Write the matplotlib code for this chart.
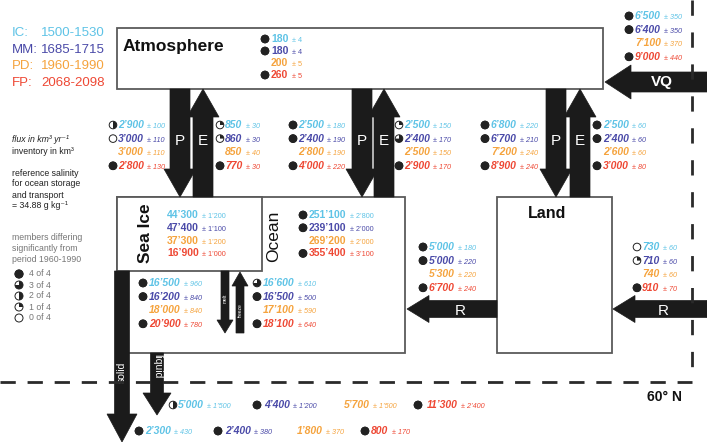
import matplotlib
matplotlib.use("Agg")
import matplotlib.pyplot as plt
from matplotlib.patches import Rectangle, FancyArrow, Wedge, Circle

plt.rcParams['font.family'] = ['Liberation Sans', 'DejaVu Sans']
plt.rcParams['lines.scale_dashes'] = False

# period colours: IC, MM, PD, FP
COLS = ["#5ec3e6", "#4a4aa8", "#f5a33d", "#ee4834"]
periods = ["IC:", "MM:", "PD:", "FP:"]
years = ["1500-1530", "1685-1715", "1960-1990", "2068-2098"]

# values per period (IC, MM, PD, FP); sig = members differing (None = reference)
atm_val = ["180", "180", "200", "260"]
atm_err = ["4", "4", "5", "5"]
atm_sig = [4, 4, None, 4]

vq_val = ["6’500", "6’400", "7’100", "9’000"]
vq_err = ["350", "350", "370", "440"]
vq_sig = [4, 4, None, 4]

siP_val = ["2’900", "3’000", "3’000", "2’800"]
siP_err = ["100", "110", "110", "130"]
siP_sig = [2, 0, None, 4]

siE_val = ["850", "860", "850", "770"]
siE_err = ["30", "30", "40", "30"]
siE_sig = [1, 1, None, 4]

ocP_val = ["2’500", "2’400", "2’800", "4’000"]
ocP_err = ["180", "190", "190", "220"]
ocP_sig = [4, 4, None, 4]

ocE_val = ["2’500", "2’400", "2’500", "2’900"]
ocE_err = ["150", "170", "150", "170"]
ocE_sig = [1, 3, None, 4]

laP_val = ["6’800", "6’700", "7’200", "8’900"]
laP_err = ["220", "210", "240", "240"]
laP_sig = [4, 4, None, 4]

laE_val = ["2’500", "2’400", "2’600", "3’000"]
laE_err = ["60", "60", "60", "80"]
laE_sig = [4, 4, None, 4]

siInv_val = ["44’300", "47’400", "37’300", "16’900"]
siInv_err = ["1’200", "1’100", "1’200", "1’000"]
siInv_sig = [None, None, None, None]

ocInv_val = ["251’100", "239’100", "269’200", "355’400"]
ocInv_err = ["2’800", "2’000", "2’000", "3’100"]
ocInv_sig = [4, 4, None, 4]

melt_val = ["16’500", "16’200", "18’000", "20’900"]
melt_err = ["960", "840", "840", "780"]
melt_sig = [4, 4, None, 4]

frz_val = ["16’600", "16’500", "17’100", "18’100"]
frz_err = ["610", "500", "590", "640"]
frz_sig = [3, 4, None, 4]

rOc_val = ["5’000", "5’000", "5’300", "6’700"]
rOc_err = ["180", "220", "220", "240"]
rOc_sig = [4, 4, None, 4]

rLa_val = ["730", "710", "740", "910"]
rLa_err = ["60", "60", "60", "70"]
rLa_sig = [0, 1, None, 4]

liq_val = ["5’000", "4’400", "5’700", "11’300"]
liq_err = ["1’500", "1’200", "1’500", "2’400"]
liq_sig = [2, 4, None, 4]

sol_val = ["2’300", "2’400", "1’800", "800"]
sol_err = ["430", "380", "370", "170"]
sol_sig = [4, 4, None, 4]

legend_n = [4, 3, 2, 1, 0]

fig = plt.figure(figsize=(7.07, 4.42), dpi=100)
ax = fig.add_axes([0, 0, 1, 1])
ax.set_xlim(0, 707)
ax.set_ylim(442, 0)
ax.axis("off")

ARR = "#1b1b1b"
EDGE = "#5a5a5a"


def marker(x, y, n, r=3.8):
    if n is None:
        return
    ax.add_patch(Circle((x, y), r, fc="white", ec="#222", lw=0.7, zorder=5))
    if n >= 4:
        ax.add_patch(Circle((x, y), r, fc="#222", ec="#222", lw=0.7, zorder=6))
    elif n > 0:
        ax.add_patch(Wedge((x, y), r, 270, 270 + 90 * n, fc="#222", ec="none", zorder=6))


def entry(mx, tx, y, val, err, sig, col, italic=True, size=7.5):
    if mx is not None:
        marker(mx, y, sig)
    st = "italic" if italic else "normal"
    t = ax.text(tx, y, val, color=col, fontsize=size, fontweight="bold",
                fontstyle=st, va="center", ha="left", zorder=7)
    ax.annotate("± " + err, xy=(1, 0), xycoords=t, xytext=(2.5, 0),
                textcoords="offset points", va="bottom", ha="left",
                color=col, fontsize=size - 2.3, fontstyle=st, zorder=7)


def block(mx, tx, y0, vals, errs, sigs, dy=13.6, italic=True):
    for i in range(4):
        entry(mx, tx, y0 + i * dy, vals[i], errs[i], sigs[i], COLS[i], italic)


def arrow(x0, y0, x1, y1, w, hw, hl):
    ax.add_patch(FancyArrow(x0, y0, x1 - x0, y1 - y0, width=w, head_width=hw,
                            head_length=hl, length_includes_head=True,
                            fc=ARR, ec=ARR, lw=0.5, zorder=3))


# boxes
ax.add_patch(Rectangle((117, 28), 486, 61, fc="white", ec=EDGE, lw=1.3, zorder=2))
ax.add_patch(Rectangle((117, 197), 288, 156, fc="white", ec=EDGE, lw=1.3, zorder=1))
ax.add_patch(Rectangle((117, 197), 145, 74, fc="white", ec=EDGE, lw=1.3, zorder=2))
ax.add_patch(Rectangle((497, 197), 115, 156, fc="white", ec=EDGE, lw=1.3, zorder=2))

ax.text(123, 46, "Atmosphere", fontsize=12.5, fontweight="bold", va="center", color="#111")
ax.text(547, 213, "Land", fontsize=11.5, fontweight="bold", va="center", ha="center", color="#111")
ax.text(146, 233, "Sea Ice", fontsize=12.5, fontweight="bold", rotation=90,
        va="center", ha="center", color="#111")
ax.text(274, 236, "Ocean", fontsize=12.5, rotation=90, va="center", ha="center", color="#111")

# vertical P / E arrows
for pc, ec_ in [(180, 203), (362, 384), (556, 580)]:
    arrow(pc, 89, pc, 197, 20, 32, 28)
    arrow(ec_, 197, ec_, 89, 20, 32, 28)
    ax.text(pc, 141, "P", color="white", fontsize=11, ha="center", va="center", zorder=8)
    ax.text(ec_, 141, "E", color="white", fontsize=11, ha="center", va="center", zorder=8)

# horizontal arrows
arrow(707, 82, 605, 82, 20, 34, 26)
ax.text(662, 82, "VQ", color="white", fontsize=11, fontweight="bold", ha="center", va="center", zorder=8)
for x0, x1, xl in [(497, 407, 460), (707, 613, 663)]:
    arrow(x0, 309, x1, 309, 17, 27, 22)
    ax.text(xl, 311, "R", color="white", fontsize=11, ha="center", va="center", zorder=8)

# melt / freeze
arrow(225, 271, 225, 333, 8, 16, 13)
arrow(240, 333, 240, 272, 8, 16, 14)
ax.text(225, 298, "melt", color="white", fontsize=3.5, rotation=90, ha="center", va="center", zorder=8)
ax.text(240, 310, "freeze", color="white", fontsize=3.5, rotation=90, ha="center", va="center", zorder=8)

# export arrows
arrow(122, 271, 122, 442, 15, 30, 28)
ax.text(122, 372, "solid", color="white", fontsize=7.5, rotation=90, ha="center", va="center", zorder=8)
arrow(157, 353, 157, 415, 13, 28, 22)
ax.text(157, 366, "liquid", color="white", fontsize=7.5, rotation=270, ha="center", va="center", zorder=8)

# dashed boundaries
ax.plot([0, 692], [382, 382], color="#2a2a2a", lw=2, dashes=[11, 8.5], zorder=9,
        solid_capstyle="butt")
ax.plot([692, 692], [0, 382], color="#2a2a2a", lw=2, dashes=[11, 12], zorder=9)
ax.text(682, 397, "60° N", fontsize=10, fontweight="bold", ha="right", va="center", color="#111")

# value blocks
block(265, 271, 39, atm_val, atm_err, atm_sig, dy=12, italic=False)
block(629, 635, 16, vq_val, vq_err, vq_sig)
block(113, 118, 125, siP_val, siP_err, siP_sig)
block(220, 225, 125, siE_val, siE_err, siE_sig)
block(293, 298, 125, ocP_val, ocP_err, ocP_sig)
block(399, 404, 125, ocE_val, ocE_err, ocE_sig)
block(485, 491, 125, laP_val, laP_err, laP_sig)
block(597, 603, 125, laE_val, laE_err, laE_sig)
block(160, 167, 215, siInv_val, siInv_err, siInv_sig, dy=12.8, italic=False)
block(303, 309, 215, ocInv_val, ocInv_err, ocInv_sig, dy=12.8, italic=False)
block(143, 149, 283, melt_val, melt_err, melt_sig)
block(257, 263, 283, frz_val, frz_err, frz_sig)
block(423, 429, 247, rOc_val, rOc_err, rOc_sig)
block(637, 642, 247, rLa_val, rLa_err, rLa_sig)

liq_mx = [173, 257, None, 418]
liq_tx = [178, 264, 344, 427]
sol_mx = [139, 218, None, 365]
sol_tx = [145, 225, 297, 371]
for i in range(4):
    entry(liq_mx[i], liq_tx[i], 405, liq_val[i], liq_err[i], liq_sig[i], COLS[i])
    entry(sol_mx[i], sol_tx[i], 431, sol_val[i], sol_err[i], sol_sig[i], COLS[i])

# legend text (left)
for i in range(4):
    ax.text(12, 33 + i * 16.6, periods[i], color=COLS[i], fontsize=9.5, va="center")
    ax.text(41, 33 + i * 16.6, years[i], color=COLS[i], fontsize=9.5, va="center")

ax.text(12, 140, "flux in km³ yr⁻¹", fontsize=6.3, fontstyle="italic", va="center", color="#222")
ax.text(12, 151, "inventory in km³", fontsize=6.3, va="center", color="#222")
for i, s in enumerate(["reference salinity", "for ocean storage", "and transport",
                       "= 34.88 g kg⁻¹"]):
    ax.text(12, 173 + i * 11, s, fontsize=6.3, va="center", color="#222")
for i, s in enumerate(["members differing", "significantly from", "period 1960-1990"]):
    ax.text(12, 237 + i * 11.5, s, fontsize=6.3, va="center", color="#777")
for i, n in enumerate(legend_n):
    marker(19, 274 + i * 11, n, r=4)
    ax.text(29, 274 + i * 11, f"{n} of 4", fontsize=6.3, va="center", color="#777")

fig.savefig("out.png", dpi=100)
